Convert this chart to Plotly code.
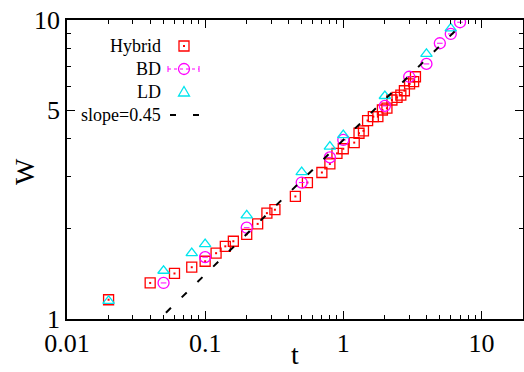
import plotly.graph_objects as go

# ---- data ----
hybrid_t = [0.02, 0.04, 0.06, 0.08, 0.10, 0.12, 0.14, 0.16, 0.20, 0.24, 0.28, 0.32,
            0.45, 0.55, 0.70, 0.80, 0.90, 1.00, 1.20, 1.30, 1.40, 1.50, 1.65, 1.78,
            1.92, 2.07, 2.25, 2.45, 2.61, 2.77, 3.02, 3.23, 3.33]
hybrid_W = [1.16, 1.32, 1.42, 1.49, 1.56, 1.66, 1.75, 1.82, 1.92, 2.08, 2.26, 2.32,
            2.57, 2.86, 3.09, 3.30, 3.58, 3.71, 3.89, 4.18, 4.26, 4.61, 4.75, 4.75,
            5.00, 5.07, 5.40, 5.51, 5.61, 5.80, 6.11, 6.22, 6.46]

bd_t = [0.05, 0.1, 0.2, 0.5, 0.8, 1.0, 2.0, 3.0, 4.0, 5.0, 6.0, 7.0]
bd_W = [1.32, 1.61, 2.02, 2.86, 3.47, 3.97, 5.16, 6.46, 7.13, 8.36, 8.98, 9.83]

ld_t = [0.02, 0.05, 0.08, 0.1, 0.2, 0.5, 0.8, 1.0, 2.0, 4.0, 6.0]
ld_W = [1.15, 1.45, 1.66, 1.78, 2.22, 3.10, 3.77, 4.12, 5.57, 7.70, 9.38]

SLOPE = 0.45
AMP = 3.97
slope_t = [0.04, 7.5]
slope_W = [AMP * t ** SLOPE for t in slope_t]

x_ticks = [0.01, 0.1, 1, 10]
x_ticktext = ["0.01", "0.1", "1", "10"]
y_ticks = [1, 5, 10]
y_ticktext = ["1", "5", "10"]

legend_names = ["Hybrid", "BD", "LD", "slope=0.45"]

RED = "#ff0000"
MAG = "#ff00ff"
CYA = "#00e5ee"
FONT = "Liberation Serif"

x_minor = [m * 10 ** e for e in (-2, -1, 0, 1) for m in range(2, 10) if m * 10 ** e < 20]
y_minor = [2, 3, 4, 6, 7, 8, 9]

# frame at x 67..523, y 20..319 in the 524x372 window (body margin removed)
W_FIG, H_FIG = 524, 372
L, T = 67, 20
pw, ph = 456.0, 299.0
R = W_FIG - L - pw
B = H_FIG - T - ph

MS = 10  # marker size

fig = go.Figure()

fig.add_trace(go.Scatter(x=hybrid_t, y=hybrid_W, mode="markers",
                         marker=dict(symbol="square-open", size=MS, color=RED,
                                     line=dict(width=1.3, color=RED))))
fig.add_trace(go.Scatter(x=hybrid_t, y=hybrid_W, mode="markers",
                         marker=dict(symbol="square", size=2, color=RED)))
fig.add_trace(go.Scatter(x=bd_t, y=bd_W, mode="markers",
                         marker=dict(symbol="circle-open", size=MS + 1, color=MAG,
                                     line=dict(width=1.3, color=MAG))))
fig.add_trace(go.Scatter(x=bd_t, y=bd_W, mode="markers",
                         marker=dict(symbol="line-ew", size=4, color=MAG,
                                     line=dict(width=1, color=MAG))))
fig.add_trace(go.Scatter(x=ld_t, y=ld_W, mode="markers",
                         marker=dict(symbol="triangle-up-open", size=MS, color=CYA,
                                     line=dict(width=1.3, color=CYA))))
fig.add_trace(go.Scatter(x=slope_t, y=slope_W, mode="lines",
                         line=dict(color="black", width=2, dash="7px,15px")))

# ---- gnuplot-style key: text right-aligned, sample to its right (shapes) ----
def px(xw):
    return (xw - 67) / pw

def py(yw):
    return (319 - yw) / ph

sx = px(184)
rows = [py(y) for y in (46, 69, 92, 115)]

def pshape(kind, xc, yc, x0, y0, x1, y1, color, **kw):
    return dict(type=kind, xref="paper", yref="paper", xsizemode="pixel",
                ysizemode="pixel", xanchor=xc, yanchor=yc, x0=x0, y0=y0,
                x1=x1, y1=y1, line=dict(color=color, width=kw.get("w", 1.3),
                                        dash=kw.get("dash", "solid")),
                layer="above")

shapes = []
# Hybrid: square with centre dot
shapes.append(pshape("rect", sx, rows[0], -5, -5, 5, 5, RED))
shapes.append(dict(type="rect", xref="paper", yref="paper", xsizemode="pixel",
                   ysizemode="pixel", xanchor=sx, yanchor=rows[0], x0=-1, y0=-1,
                   x1=1, y1=1, fillcolor=RED, line=dict(width=0), layer="above"))
# BD: dotted error bar with caps and circle
shapes.append(pshape("line", sx, rows[1], -16, 0, 15, 0, MAG, w=1, dash="dot"))
shapes.append(pshape("line", sx, rows[1], -16, -3, -16, 3, MAG, w=1))
shapes.append(pshape("line", sx, rows[1], 15, -3, 15, 3, MAG, w=1))
shapes.append(pshape("circle", sx, rows[1], -5.5, -5.5, 5.5, 5.5, MAG))
# LD: triangle
shapes.append(dict(type="path", xref="paper", yref="paper", xsizemode="pixel",
                   ysizemode="pixel", xanchor=sx, yanchor=rows[2],
                   path="M -5.5 -4 L 5.5 -4 L 0 5.5 Z",
                   line=dict(color=CYA, width=1.3), layer="above"))
# slope: two dashes
shapes.append(pshape("line", sx, rows[3], -14, 0, -8, 0, "black", w=2))
shapes.append(pshape("line", sx, rows[3], 9, 0, 15, 0, "black", w=2))

for name, yy in zip(legend_names, rows):
    fig.add_annotation(x=px(163), y=yy, xref="paper", yref="paper",
                       text=name, showarrow=False, xanchor="right", yanchor="middle",
                       font=dict(family=FONT, size=18, color="black"))

# axis titles as annotations for exact placement
fig.add_annotation(x=px(295), y=py(354), xref="paper", yref="paper",
                   text="t", showarrow=False, xanchor="center", yanchor="middle",
                   font=dict(family=FONT, size=28, color="black"))
fig.add_annotation(x=px(24), y=py(172), xref="paper", yref="paper",
                   text="W", showarrow=False, xanchor="center", yanchor="middle",
                   textangle=-90, font=dict(family=FONT, size=28, color="black"))

axis_common = dict(type="log", showgrid=False, zeroline=False, showline=True,
                   linecolor="black", linewidth=1.5, mirror="allticks",
                   ticks="inside", ticklen=8, tickwidth=1.2, tickcolor="black",
                   automargin=False, ticklabeloverflow="allow",
                   tickfont=dict(family=FONT, size=26, color="black"))

fig.update_layout(
    width=W_FIG, height=H_FIG,
    margin=dict(l=L, r=R, t=T, b=B),
    paper_bgcolor="white", plot_bgcolor="white",
    showlegend=False,
    shapes=shapes,
    xaxis=dict(range=[-2, 1.30103], tickvals=x_ticks, ticktext=x_ticktext,
               minor=dict(tickmode="array", tickvals=x_minor, ticks="inside",
                          ticklen=4, tickwidth=1, tickcolor="black", showgrid=False),
               **axis_common),
    yaxis=dict(range=[0, 1], tickvals=y_ticks, ticktext=y_ticktext,
               minor=dict(tickmode="array", tickvals=y_minor, ticks="inside",
                          ticklen=4, tickwidth=1, tickcolor="black", showgrid=False),
               **axis_common),
)

fig.write_html("out.html", config={"displayModeBar": False},
               post_script="document.body.style.margin='0px';")
